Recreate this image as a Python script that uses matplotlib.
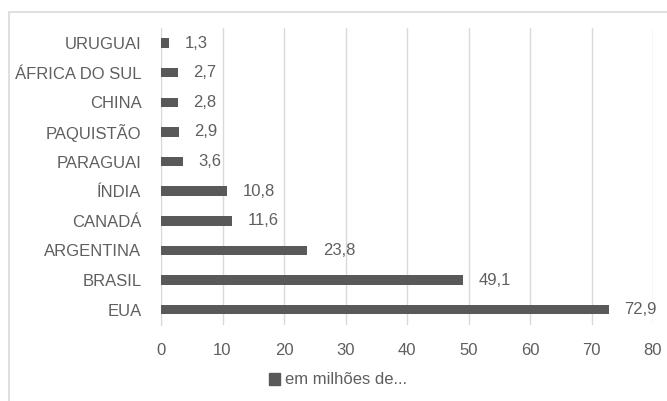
import matplotlib

matplotlib.use("Agg")
import matplotlib.pyplot as plt
from matplotlib.patches import Rectangle, Patch

# values (million tonnes), top to bottom as drawn
countries = ["URUGUAI", "ÁFRICA DO SUL", "CHINA", "PAQUISTÃO", "PARAGUAI",
             "ÍNDIA", "CANADÁ", "ARGENTINA", "BRASIL", "EUA"]
values = [1.3, 2.7, 2.8, 2.9, 3.6, 10.8, 11.6, 23.8, 49.1, 72.9]
xticks = [0, 10, 20, 30, 40, 50, 60, 70, 80]
series_name = "em milhões de..."

BAR = "#595959"
TXT = "#5f5f5f"
GRID = "#d9d9d9"

plt.rcParams["font.family"] = ["Liberation Sans", "DejaVu Sans"]

fig = plt.figure(figsize=(6.67, 4.01), dpi=100)
fig.patch.set_facecolor("white")

# outer chart frame (runs off the right and bottom edges)
fig.patches.append(Rectangle((9 / 667, -0.05), 1.1, 1.05 - 12 / 401,
                             transform=fig.transFigure, fill=False,
                             edgecolor="#d9d9d9", lw=1.2))

ax = fig.add_axes([161 / 667, 1 - 324.5 / 401, (653 - 161) / 667, (324.5 - 28.2) / 401])

ypos = list(range(len(countries)))[::-1]
ax.barh(ypos, values, height=0.32, color=BAR, zorder=3)
ax.set_ylim(-0.5, len(countries) - 0.5)
ax.set_xlim(0, 80)
ax.set_xticks(xticks)
ax.set_xticklabels([str(t) for t in xticks])
ax.set_yticks(ypos)
ax.set_yticklabels(countries)

for y, v in zip(ypos, values):
    ax.annotate(f"{v:.1f}".replace(".", ","), (v, y), xytext=(11, 0),
                textcoords="offset points", ha="left", va="center",
                fontsize=12, color=TXT, clip_on=False)

ax.grid(axis="x", color=GRID, lw=1, zorder=0)
for s in ["top", "right", "bottom"]:
    ax.spines[s].set_visible(False)
ax.spines["left"].set_color(GRID)
ax.tick_params(axis="both", length=0, labelsize=12, labelcolor=TXT)
ax.tick_params(axis="x", pad=13)
ax.tick_params(axis="y", pad=14)

handle = Patch(facecolor=BAR, edgecolor=BAR)
fig.legend([handle], [series_name], loc="center", bbox_to_anchor=(338 / 667, 1 - 380 / 401),
           frameon=False, fontsize=12, labelcolor=TXT, handlelength=0.7,
           handleheight=0.7, handletextpad=0.3)

fig.savefig("out.png", dpi=100)
